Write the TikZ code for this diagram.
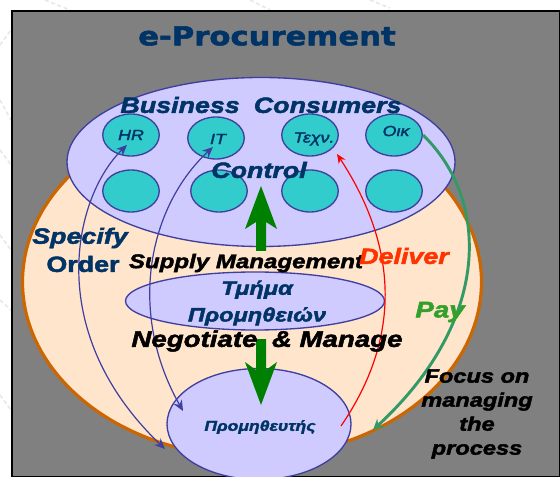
\documentclass[tikz,border=0pt]{standalone}
\usepackage{fontspec}
\setmainfont{Liberation Sans}[FakeStretch=1.22,FakeBold=2.2]
\newfontfamily\titlefont{DejaVu Sans}[FakeStretch=1.18,FakeBold=2]
\usetikzlibrary{shapes.geometric,arrows.meta}
\definecolor{navy}{HTML}{003366}
\definecolor{panel}{HTML}{808080}
\definecolor{lilac}{HTML}{CFCBFF}
\definecolor{edgeblue}{HTML}{3F3F9F}
\definecolor{peach}{HTML}{FFE5CC}
\definecolor{rust}{HTML}{CC6600}
\definecolor{teal2}{HTML}{33CCCC}
\definecolor{payline}{HTML}{339966}
\definecolor{bigarrow}{HTML}{008000}
\definecolor{deliver}{HTML}{FF3300}
\definecolor{paytext}{HTML}{33A02C}
\tikzset{
  x=0.75pt,y=-0.75pt,
  ell/.style={ellipse,draw=edgeblue,line width=1pt,fill=#1,inner sep=0pt},
  dept/.style={ell=teal2,minimum width=56.5*0.75pt,minimum height=42*0.75pt},
  lab/.style={font=\bfseries\itshape,inner sep=0pt,align=center},
  flow/.style={draw=edgeblue,line width=0.9pt,{Stealth[length=8pt,width=7pt]}-{Stealth[length=8pt,width=7pt]}},
  bigup/.style={fill=bigarrow,draw=none}
}
\begin{document}
\begin{tikzpicture}
\useasboundingbox (0,0) rectangle (560,477);
\fill[white] (0,0) rectangle (560,477);
% faint backdrop texture
\begin{scope}[draw=black!9,line width=1.2pt,dash pattern=on 3pt off 2pt]
\draw (0,45) -- (11,30); \draw (0,100) -- (11,120); \draw (0,150) -- (11,165);
\draw (0,235) -- (11,250); \draw (0,300) -- (11,310); \draw (0,395) -- (11,410);
\draw (45,0) -- (70,10); \draw (250,0) -- (270,10); \draw (370,0) -- (390,8);
\end{scope}
\path[draw=black,line width=1.5pt,fill=panel] (11.5,11) -- (560,11) -- (560,477) -- (11.5,477) -- cycle;

\node[font=\titlefont\bfseries\fontsize{19.5}{20}\selectfont,text=navy,inner sep=0pt] (title) at (267,36) {e-Procurement};

\node[ellipse,draw=rust,line width=2.4pt,fill=peach,inner sep=0pt,minimum width=459*0.75pt,minimum height=350*0.75pt] (org) at (252,282) {};
\node[ell=lilac,minimum width=388*0.75pt,minimum height=169*0.75pt] (consumers) at (261,162) {};
\node[ell=lilac,minimum width=259*0.75pt,minimum height=58*0.75pt] (dept0) at (255,301) {};
\node[ell=lilac,minimum width=184*0.75pt,minimum height=111*0.75pt] (supplier) at (259,424) {};

\node[dept] (hr) at (131,135) {};
\node[dept] (it) at (216,138) {};
\node[dept] (tech) at (310,135) {};
\node[dept] (oik) at (394,135) {};
\node[dept] (a1) at (131,191) {};
\node[dept] (a2) at (219,191) {};
\node[dept] (a3) at (310,191) {};
\node[dept] (a4) at (394,191) {};

% big green arrows
\coordinate (upTip) at (261,186);
\coordinate (dnTip) at (261,405);
\fill[bigup] (upTip) -- (277,229) -- (266,222) -- (266,251) -- (256,251) -- (256,222) -- (245,229) -- cycle;
\fill[bigup] (dnTip) -- (277,362) -- (266,370) -- (266,339) -- (256,339) -- (256,370) -- (245,362) -- cycle;

% flows
\coordinate (hrTip) at (127,145);
\coordinate (itTip) at (213,147);
\coordinate (o1) at (165,449);
\coordinate (o2) at (183,411);
\coordinate (rs) at (341,426);
\coordinate (rt) at (337,154);
\coordinate (gs) at (423,135);
\coordinate (gt) at (373,430);
\draw[flow] (hrTip) .. controls (75,195) and (41,330) .. (o1);
\draw[flow] (itTip) .. controls (150,205) and (126,310) .. (o2);
\draw[red,line width=0.9pt,-{Stealth[length=7pt,width=6pt]}] (rs) .. controls (400,340) and (400,250) .. (rt);
\draw[payline,line width=2.2pt,-{Stealth[length=8pt,width=8pt]}] (gs) .. controls (490,200) and (492,320) .. (gt);

% labels
\node[lab,text=navy,font=\bfseries\itshape\fontsize{16.5}{18}\selectfont] (bc) at (261,105) {Business\hspace{0.3em} Consumers};
\node[lab,text=navy,font=\bfseries\itshape\fontsize{16.5}{18}\selectfont] (ctl) at (259,170) {Control};
\node[lab,text=navy,font=\itshape\fontsize{11}{12}\selectfont] (thr) at (131,135) {HR};
\node[lab,text=navy,font=\itshape\fontsize{11}{12}\selectfont] (tit) at (218,139) {IT};
\node[lab,text=navy,font=\itshape\fontsize{11}{12}\selectfont] (tte) at (314,139) {Τεχν.};
\node[lab,text=navy,font=\itshape\fontsize{11}{12}\selectfont] (toi) at (396,131) {Οικ};
\node[lab,text=navy,font=\bfseries\itshape\fontsize{16.5}{20}\selectfont] (sp) at (80,238) {Specify};
\node[lab,text=navy,font=\bfseries\fontsize{16.5}{20}\selectfont] (ord) at (83,264) {Order};
\node[lab,text=black,font=\bfseries\itshape\fontsize{14.8}{16}\selectfont] (sm) at (246,263) {Supply Management};
\node[lab,text=deliver,font=\bfseries\itshape\fontsize{16.5}{18}\selectfont] (del) at (404,256) {Deliver};
\node[lab,text=navy,font=\bfseries\itshape\fontsize{14.5}{20}\selectfont] (dt) at (257,303) {Τμήμα\\Προμηθειών};
\node[lab,text=black,font=\bfseries\itshape\fontsize{17}{18}\selectfont] (nm) at (267,341) {Negotiate\hspace{0.3em} \& Manage};
\node[lab,text=paytext,font=\bfseries\itshape\fontsize{17}{18}\selectfont] (pay) at (440,312) {Pay};
\node[lab,text=navy,font=\bfseries\itshape\fontsize{10.8}{12}\selectfont] (sup) at (260,427) {Προμηθευτής};
\node[lab,text=black,font=\bfseries\itshape\fontsize{14.5}{18}\selectfont] (foc) at (477,414) {Focus on\\managing\\the\\process};
\end{tikzpicture}
\end{document}
